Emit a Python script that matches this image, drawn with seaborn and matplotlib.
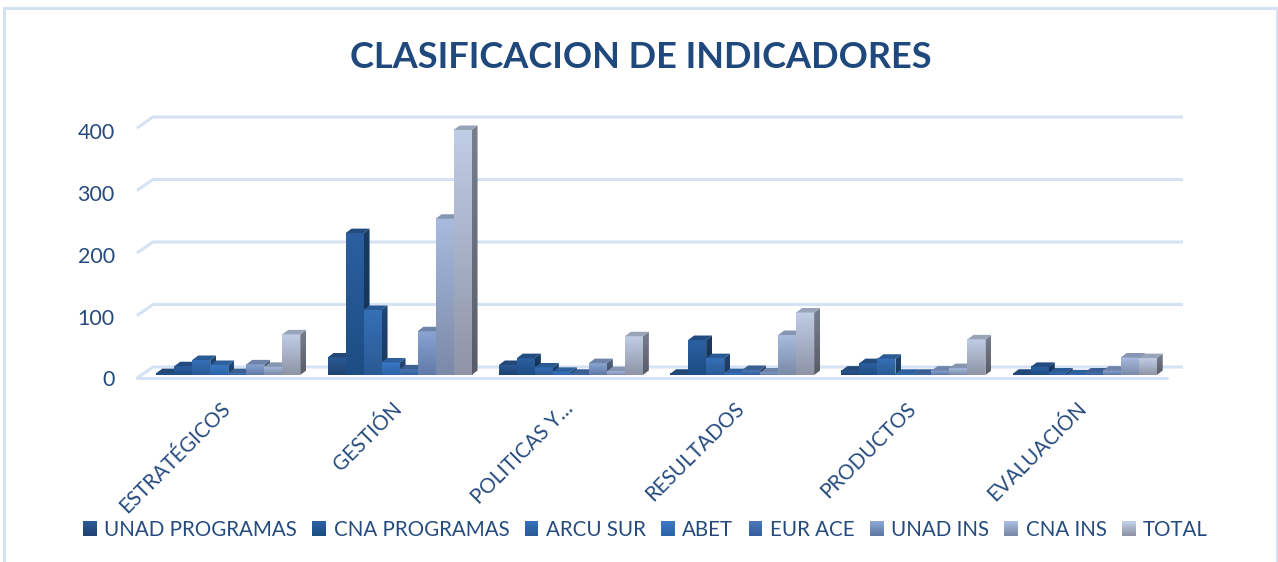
import numpy as np
import pandas as pd
import matplotlib
matplotlib.use("Agg")
import matplotlib.pyplot as plt
import seaborn as sns
from matplotlib.colors import to_rgb
from matplotlib.legend_handler import HandlerBase
from matplotlib.patches import Patch, Polygon, Rectangle
from matplotlib.transforms import ScaledTranslation

categories = ["ESTRATÉGICOS", "GESTIÓN", "POLITICAS Y…", "RESULTADOS", "PRODUCTOS", "EVALUACIÓN"]
series_names = ["UNAD PROGRAMAS", "CNA PROGRAMAS", "ARCU SUR", "ABET", "EUR ACE", "UNAD INS", "CNA INS", "TOTAL"]
unad_programas = [3, 28, 16, 2, 7, 2]
cna_programas = [14, 227, 27, 56, 19, 13]
arcu_sur = [24, 104, 12, 27, 26, 4]
abet = [16, 20, 5, 3, 2, 1]
eur_ace = [3, 9, 2, 8, 2, 4]
unad_ins = [17, 70, 19, 4, 7, 7]
cna_ins = [13, 250, 6, 64, 11, 28]
total = [65, 392, 62, 100, 57, 27]
all_series = [unad_programas, cna_programas, arcu_sur, abet, eur_ace, unad_ins, cna_ins, total]
y_ticks = [0, 100, 200, 300, 400]

top_colors = ["#2A5A96", "#2B5FA0", "#3570B8", "#3A78C4", "#4A77B8", "#8AA5D2", "#A8BBDE", "#C0CDE6"]
bottom_colors = ["#1F4270", "#1C4D83", "#2A5A94", "#2B64A8", "#355F9A", "#5F7AA8", "#7A8AA8", "#8F94A6"]
TEXT = "#254B7E"
GRID = "#D5E2F3"

W, H = 1278, 562
sns.set_theme(style="white", rc={"axes.facecolor": "none"})
plt.rcParams["font.family"] = ["Lato", "DejaVu Sans"]

df = pd.DataFrame({
    "category": np.repeat(categories, len(series_names)),
    "series": series_names * len(categories),
    "value": [s[i] for i in range(len(categories)) for s in all_series],
})

fig = plt.figure(figsize=(W / 100, H / 100), dpi=100)
fig.patch.set_facecolor("white")
PPX = 171.3          # pixels per category
PPY = 0.625          # pixels per value unit
left, base = 142.6, 375
ax = fig.add_axes([left / W, (H - base) / H, 6 * PPX / W, 420 * PPY / H])
sns.barplot(data=df, x="category", y="value", hue="series", order=categories,
            hue_order=series_names, width=8 * 18 / PPX, legend=False, ax=ax,
            palette=dict(zip(series_names, top_colors)), saturation=1, linewidth=0)
ax.set_xlabel("")
ax.set_ylabel("")
sns.despine(ax=ax, left=True, bottom=True)

def grad(c0, c1, factor=1.0):
    a, b = np.array(to_rgb(c0)) * factor, np.array(to_rgb(c1)) * factor
    return np.linspace(a, b, 64)[:, None, :]

px = 1 / PPX
py = 1 / PPY
# 3-D extrusion of each drawn bar
dx, dy = 6 * px, 4.5 * py
bars = [p for p in ax.patches if p.get_width() > 0]
bars.sort(key=lambda p: p.get_x())
n = len(series_names)
for i, p in enumerate(bars):
    s = i % n
    x, w, h = p.get_x(), p.get_width(), p.get_height()
    z = 3 + i * 0.01
    p.set_visible(False)
    ax.imshow(grad(top_colors[s], bottom_colors[s]), extent=(x, x + w, 0, h),
              aspect="auto", zorder=z, interpolation="bilinear", origin="upper")
    side = Polygon([(x + w, 0), (x + w + dx, dy), (x + w + dx, h + dy), (x + w, h)],
                   closed=True, fc="none", ec="none", zorder=z)
    ax.add_patch(side)
    im = ax.imshow(grad(top_colors[s], bottom_colors[s], 0.62), extent=(x + w, x + w + dx, 0, h + dy),
                   aspect="auto", zorder=z, interpolation="bilinear", origin="upper")
    im.set_clip_path(side)
    ax.add_patch(Polygon([(x, h), (x + dx, h + dy), (x + w + dx, h + dy), (x + w, h)], closed=True,
                         fc=np.array(to_rgb(top_colors[s])) * 0.8, ec="none", zorder=z))
ax.set_xlim(-0.5, 5.5)
ax.set_ylim(0, 420)

# wall and floor lines
x_front0, x_front1 = (137 - left) * px - 0.5, (1167 - left) * px - 0.5
wall_dx, back_up, front_up = 16 * px, 8 * py, -3 * py
for v in y_ticks:
    ax.plot([x_front0, x_front0 + wall_dx, x_front1 + wall_dx],
            [v + front_up, v + back_up, v + back_up], color=GRID, lw=2.2,
            solid_capstyle="butt", clip_on=False, zorder=1)
ax.plot([x_front0, x_front1],
        [front_up, front_up], color=GRID, lw=2.2, clip_on=False, zorder=1)

ax.set_yticks(y_ticks)
ax.tick_params(axis="y", length=0, pad=20, labelsize=15.5, labelcolor=TEXT)
for v, t in zip(y_ticks, ax.get_yticklabels()):
    t.set_transform(t.get_transform() + ScaledTranslation(0, -(3.5 + 0.0075 * v) / 100, fig.dpi_scale_trans))
ax.set_xticks(range(len(categories)))
ax.set_xticklabels(categories, rotation=45, ha="right", rotation_mode="anchor", fontsize=14.8, color=TEXT)
ax.tick_params(axis="x", length=0, pad=17)
for t in ax.get_xticklabels():
    t.set_transform(t.get_transform() + ScaledTranslation(-8 / 100, 0, fig.dpi_scale_trans))

fig.text(641 / W, 1 - 58 / H, "CLASIFICACION DE INDICADORES", ha="center", va="center",
         fontsize=26, fontweight="bold", color="#1F497D")

class GradHandler(HandlerBase):
    def create_artists(self, legend, orig, xd, yd, width, height, fontsize, trans):
        arts = []
        cols = grad(orig.top, orig.bottom)[:, 0, :]
        k = 12
        side = width
        for j in range(k):
            arts.append(Rectangle((0, yd + side * (1 - (j + 1) / k)), side, side / k + 0.2,
                                  fc=cols[int(j * 63 / (k - 1))], ec="none", transform=trans))
        return arts

handles = []
for nm, a, b in zip(series_names, top_colors, bottom_colors):
    h = Patch(label=nm)
    h.top, h.bottom = a, b
    handles.append(h)
fig.legend(handles=handles, loc="center", bbox_to_anchor=(645.5 / W, 1 - 529.5 / H), ncol=8, frameon=False,
           fontsize=14.8, labelcolor=TEXT, handler_map={Patch: GradHandler()},
           handlelength=0.67, handletextpad=0.36, columnspacing=0.75, borderpad=0, borderaxespad=0)

# chart border
fig.add_artist(Rectangle((4 / W, -0.02), (W - 5) / W, (H - 8) / H + 0.02, fill=False, ec=GRID, lw=2.2,
                         transform=fig.transFigure))
fig.savefig("out.png", dpi=100, facecolor="white")
